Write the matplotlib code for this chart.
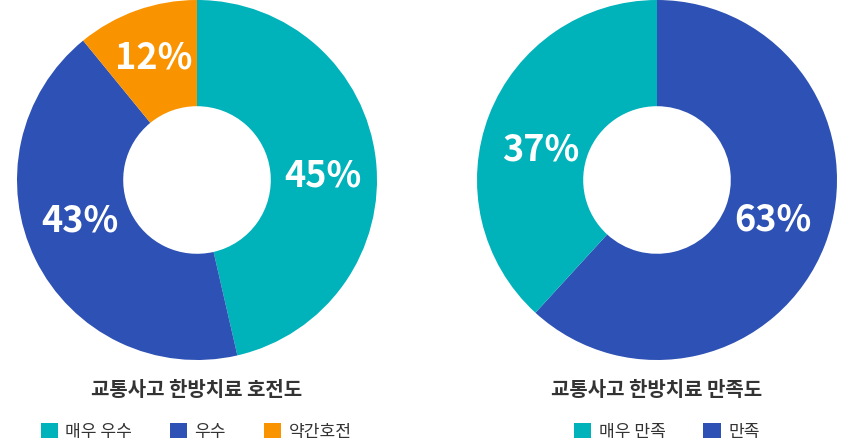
import numpy as np
import matplotlib
matplotlib.use("Agg")
import matplotlib.pyplot as plt
from matplotlib.patches import Patch

plt.rcParams["font.family"] = ["Noto Sans CJK KR", "DejaVu Sans"]

# data (wedge shares as drawn, printed percentages as labelled)
left_title = "교통사고 한방치료 호전도"
left_labels = ["매우 우수", "우수", "약간호전"]
left_shares = [46.4, 42.7, 10.9]
left_pct = [45, 43, 12]
left_colors = ["#00b2ba", "#2d51b4", "#fa9300"]

right_title = "교통사고 한방치료 만족도"
right_labels = ["매우 만족", "만족"]
right_shares = [38.2, 61.8]
right_pct = [37, 63]
right_colors = ["#00b2ba", "#2d51b4"]

# label placement (angle in degrees, radius fraction), same order as data
left_label_pos = [(2, 0.70), (199.5, 0.69), (109.6, 0.72)]
right_label_pos = [(165.5, 0.67), (-19, 0.68)]

W, H = 858, 441
fig = plt.figure(figsize=(W / 100, H / 100), dpi=100)

text_color = "#333333"


def donut(x0, shares, pcts, colors, label_pos):
    ax = fig.add_axes([x0 / W, 81 / H, 360 / W, 360 / H])
    ax.pie(
        shares,
        colors=colors,
        startangle=90,
        counterclock=False,
        radius=1.0,
        wedgeprops=dict(width=0.59, edgecolor="none", linewidth=0),
    )
    for p, (ang, r) in zip(pcts, label_pos):
        a = np.deg2rad(ang)
        ax.text(r * np.cos(a), r * np.sin(a), f"{p}%", ha="center", va="center",
                color="white", fontsize=26, fontweight="bold")
    ax.set_xlim(-1, 1)
    ax.set_ylim(-1, 1)
    ax.set_aspect("equal")
    ax.axis("off")
    return ax


# left donut: clockwise from top -> 45, 43, 12
donut(17, left_shares, left_pct, left_colors, left_label_pos)
# right donut: 63 clockwise from top, then 37
donut(477, right_shares[::-1], right_pct[::-1], right_colors[::-1], right_label_pos[::-1])

fig.text(197 / W, 1 - 390 / H, left_title, ha="center", va="center",
         fontsize=14.4, fontweight="bold", color=text_color)
fig.text(657 / W, 1 - 390 / H, right_title, ha="center", va="center",
         fontsize=14.4, fontweight="bold", color=text_color)

leg_kw = dict(
    loc="center",
    frameon=False,
    handlelength=1.0,
    handleheight=1.0,
    handletextpad=0.45,
    columnspacing=2.2,
    borderpad=0,
    prop=dict(size=12.3),
    labelcolor=text_color,
)
fig.legend(
    [Patch(facecolor=c, edgecolor="none") for c in left_colors],
    left_labels, ncol=len(left_labels),
    bbox_to_anchor=(196 / W, 1 - 431.5 / H), **leg_kw,
)
fig.legend(
    [Patch(facecolor=c, edgecolor="none") for c in right_colors],
    right_labels, ncol=len(right_labels),
    bbox_to_anchor=(667 / W, 1 - 431.5 / H), **leg_kw,
)

fig.savefig("out.png", dpi=100)
